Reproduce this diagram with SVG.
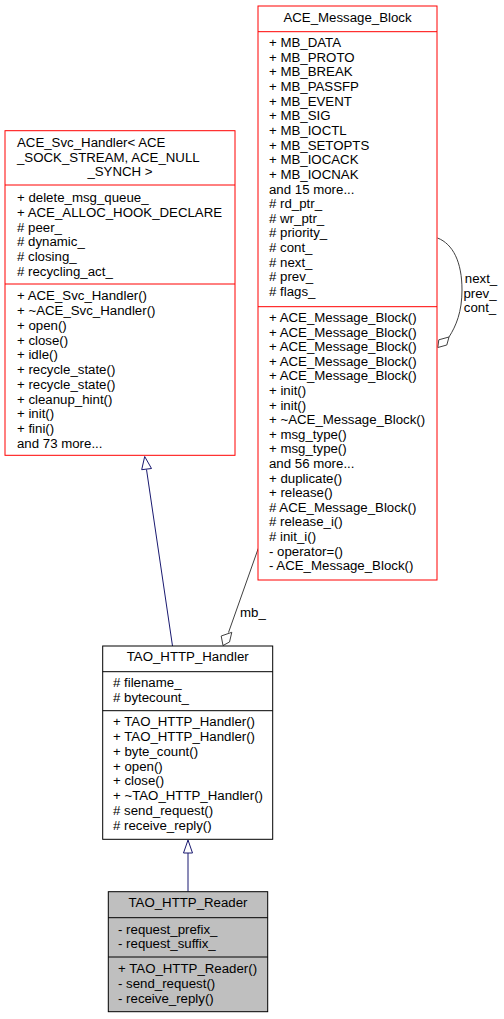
<svg xmlns="http://www.w3.org/2000/svg" width="504" height="1019" viewBox="0 0 504 1019">
<style>
text{font-family:"Liberation Sans",Arial,sans-serif;font-size:13.25px;fill:#000}
.c{text-anchor:middle}
.red{fill:#fff;stroke:#ff0000;stroke-width:1}
.blk{fill:#fff;stroke:#000;stroke-width:1}
.gry{fill:#bfbfbf;stroke:#000;stroke-width:1}
.rdl{stroke:#ff0000;stroke-width:1}
.bkl{stroke:#000;stroke-width:1}
.inh{fill:none;stroke:#191970;stroke-width:1}
.agg{fill:none;stroke:#404040;stroke-width:1}
</style>
<rect width="504" height="1019" fill="#fff"/>
<g id="connectors">
  <path class="inh" d="M188,891.7 V853"/>
  <polygon class="inh" points="188,840 183.5,853 192.5,853" style="fill:#fff"/>
  <path class="inh" d="M172.5,646 L146.5,469.5"/>
  <polygon class="inh" points="144.7,456.5 141.7,469.7 151.5,468.5" style="fill:#fff"/>
  <path class="agg" d="M258.3,548.3 L228.5,632.5"/>
  <polygon class="agg" points="223,645.5 221.2,636 231.8,632.3 229.5,642" style="fill:#fff"/>
  <text x="240" y="617">mb_</text>
  <path class="agg" d="M437.5,238 C453,244 462,262 462,290 C462,312 456,326 449,337"/>
  <polygon class="agg" points="437.8,347.5 438.8,339.8 449,337 446.8,345" style="fill:#fff"/>
  <text class="c" x="481" y="283">next_</text>
  <text class="c" x="480" y="297.5">prev_</text>
  <text class="c" x="480" y="312">cont_</text>
</g>
<g id="ACE_Message_Block">
  <rect class="red" x="258" y="6" width="179" height="574"/>
  <line class="rdl" x1="258" y1="31.7" x2="437" y2="31.7"/>
  <line class="rdl" x1="258" y1="306.7" x2="437" y2="306.7"/>
  <text class="c" x="347.5" y="22">ACE_Message_Block</text>
  <text x="269" y="47">+ MB_DATA</text>
  <text x="269" y="61.65">+ MB_PROTO</text>
  <text x="269" y="76.3">+ MB_BREAK</text>
  <text x="269" y="90.95">+ MB_PASSFP</text>
  <text x="269" y="105.6">+ MB_EVENT</text>
  <text x="269" y="120.25">+ MB_SIG</text>
  <text x="269" y="134.9">+ MB_IOCTL</text>
  <text x="269" y="149.55">+ MB_SETOPTS</text>
  <text x="269" y="164.2">+ MB_IOCACK</text>
  <text x="269" y="178.85">+ MB_IOCNAK</text>
  <text x="269" y="193.5">and 15 more...</text>
  <text x="269" y="208.15"># rd_ptr_</text>
  <text x="269" y="222.8"># wr_ptr_</text>
  <text x="269" y="237.45"># priority_</text>
  <text x="269" y="252.1"># cont_</text>
  <text x="269" y="266.75"># next_</text>
  <text x="269" y="281.4"># prev_</text>
  <text x="269" y="296.05"># flags_</text>
  <text x="269" y="322">+ ACE_Message_Block()</text>
  <text x="269" y="336.6">+ ACE_Message_Block()</text>
  <text x="269" y="351.2">+ ACE_Message_Block()</text>
  <text x="269" y="365.8">+ ACE_Message_Block()</text>
  <text x="269" y="380.4">+ ACE_Message_Block()</text>
  <text x="269" y="395">+ init()</text>
  <text x="269" y="409.6">+ init()</text>
  <text x="269" y="424.2">+ ~ACE_Message_Block()</text>
  <text x="269" y="438.8">+ msg_type()</text>
  <text x="269" y="453.4">+ msg_type()</text>
  <text x="269" y="468">and 56 more...</text>
  <text x="269" y="482.6">+ duplicate()</text>
  <text x="269" y="497.2">+ release()</text>
  <text x="269" y="511.8"># ACE_Message_Block()</text>
  <text x="269" y="526.4"># release_i()</text>
  <text x="269" y="541"># init_i()</text>
  <text x="269" y="555.6">- operator=()</text>
  <text x="269" y="570.2">- ACE_Message_Block()</text>
</g>
<g id="ACE_Svc_Handler">
  <rect class="red" x="5" y="130.7" width="230" height="324.6"/>
  <line class="rdl" x1="5" y1="185" x2="235" y2="185"/>
  <line class="rdl" x1="5" y1="284" x2="235" y2="284"/>
  <text x="17" y="147.3">ACE_Svc_Handler&lt; ACE</text>
  <text x="17" y="161.5">_SOCK_STREAM, ACE_NULL</text>
  <text class="c" x="120" y="176.2">_SYNCH &gt;</text>
  <text x="17" y="202">+ delete_msg_queue_</text>
  <text x="17" y="216.8">+ ACE_ALLOC_HOOK_DECLARE</text>
  <text x="17" y="231.6"># peer_</text>
  <text x="17" y="246.4"># dynamic_</text>
  <text x="17" y="261.2"># closing_</text>
  <text x="17" y="276"># recycling_act_</text>
  <text x="17" y="300.2">+ ACE_Svc_Handler()</text>
  <text x="17" y="315">+ ~ACE_Svc_Handler()</text>
  <text x="17" y="329.7">+ open()</text>
  <text x="17" y="344.5">+ close()</text>
  <text x="17" y="359.3">+ idle()</text>
  <text x="17" y="374">+ recycle_state()</text>
  <text x="17" y="388.8">+ recycle_state()</text>
  <text x="17" y="403.6">+ cleanup_hint()</text>
  <text x="17" y="418.4">+ init()</text>
  <text x="17" y="433.1">+ fini()</text>
  <text x="17" y="447.9">and 73 more...</text>
</g>
<g id="TAO_HTTP_Handler">
  <rect class="blk" x="102.7" y="646" width="170" height="193.3"/>
  <line class="bkl" x1="102.7" y1="671.7" x2="272.7" y2="671.7"/>
  <line class="bkl" x1="102.7" y1="710.7" x2="272.7" y2="710.7"/>
  <text class="c" x="187.7" y="661.3">TAO_HTTP_Handler</text>
  <text x="113" y="687.2"># filename_</text>
  <text x="113" y="702.2"># bytecount_</text>
  <text x="113" y="726.2">+ TAO_HTTP_Handler()</text>
  <text x="113" y="741">+ TAO_HTTP_Handler()</text>
  <text x="113" y="755.7">+ byte_count()</text>
  <text x="113" y="770.5">+ open()</text>
  <text x="113" y="785.2">+ close()</text>
  <text x="113" y="800">+ ~TAO_HTTP_Handler()</text>
  <text x="113" y="814.8"># send_request()</text>
  <text x="113" y="829.5"># receive_reply()</text>
</g>
<g id="TAO_HTTP_Reader">
  <rect class="gry" x="108.3" y="891.7" width="159.4" height="120"/>
  <line class="bkl" x1="108.3" y1="917.7" x2="267.7" y2="917.7"/>
  <line class="bkl" x1="108.3" y1="957" x2="267.7" y2="957"/>
  <text class="c" x="188" y="907.3">TAO_HTTP_Reader</text>
  <text x="118" y="933.5">- request_prefix_</text>
  <text x="118" y="948">- request_suffix_</text>
  <text x="118" y="972.8">+ TAO_HTTP_Reader()</text>
  <text x="118" y="988.3">- send_request()</text>
  <text x="118" y="1002.8">- receive_reply()</text>
</g>
</svg>
